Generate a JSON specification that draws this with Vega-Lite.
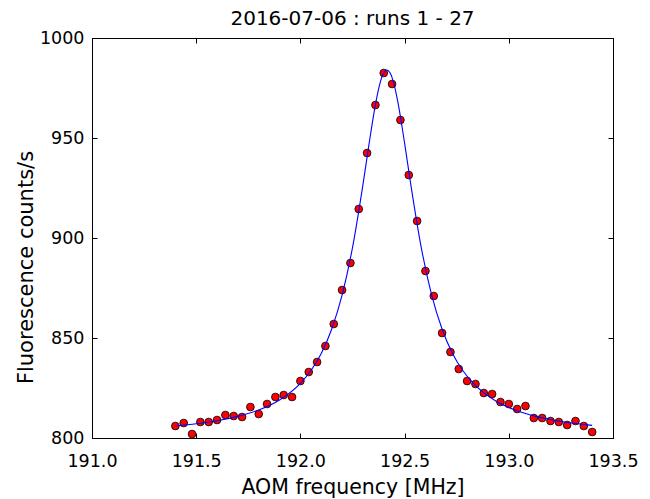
{
  "$schema": "https://vega.github.io/schema/vega-lite/v6.json",
  "autosize": "none",
  "width": 521,
  "height": 400,
  "padding": {"left": 92, "top": 38, "right": 37, "bottom": 61},
  "background": "white",
  "title": {"text": "2016-07-06 : runs 1 - 27", "font": "DejaVu Sans", "fontSize": 20, "fontWeight": "normal", "color": "black", "offset": 0},
  "config": {
    "view": {"stroke": "black", "strokeWidth": 1},
    "axis": {"grid": false, "domainColor": "black", "tickColor": "black", "labelFont": "DejaVu Sans", "titleFont": "DejaVu Sans", "labelColor": "black", "titleColor": "black", "titleFontWeight": "normal", "labelFontSize": 17.5, "tickSize": -5, "tickWidth": 1, "labelFlush": false, "labelOverlap": false}
  },
  "datasets": {
    "pts": [
      {"f": 191.40, "c": 806.0}, {"f": 191.44, "c": 807.5}, {"f": 191.48, "c": 802.0}, {"f": 191.52, "c": 808.0},
      {"f": 191.56, "c": 808.0}, {"f": 191.60, "c": 809.0}, {"f": 191.64, "c": 811.5}, {"f": 191.68, "c": 811.0},
      {"f": 191.72, "c": 810.5}, {"f": 191.76, "c": 815.5}, {"f": 191.80, "c": 812.0}, {"f": 191.84, "c": 817.0},
      {"f": 191.88, "c": 820.5}, {"f": 191.92, "c": 821.5}, {"f": 191.96, "c": 820.5}, {"f": 192.00, "c": 828.5},
      {"f": 192.04, "c": 833.0}, {"f": 192.08, "c": 838.0}, {"f": 192.12, "c": 846.0}, {"f": 192.16, "c": 857.0},
      {"f": 192.20, "c": 874.0}, {"f": 192.24, "c": 887.5}, {"f": 192.28, "c": 914.5}, {"f": 192.32, "c": 942.5},
      {"f": 192.36, "c": 966.5}, {"f": 192.40, "c": 982.5}, {"f": 192.44, "c": 977.0}, {"f": 192.48, "c": 959.0},
      {"f": 192.52, "c": 931.5}, {"f": 192.56, "c": 908.5}, {"f": 192.60, "c": 883.5}, {"f": 192.64, "c": 871.0},
      {"f": 192.68, "c": 852.5}, {"f": 192.72, "c": 843.0}, {"f": 192.76, "c": 834.5}, {"f": 192.80, "c": 828.5},
      {"f": 192.84, "c": 827.0}, {"f": 192.88, "c": 822.5}, {"f": 192.92, "c": 822.0}, {"f": 192.96, "c": 818.0},
      {"f": 193.00, "c": 817.0}, {"f": 193.04, "c": 814.5}, {"f": 193.08, "c": 816.0}, {"f": 193.12, "c": 810.0},
      {"f": 193.16, "c": 810.0}, {"f": 193.20, "c": 808.5}, {"f": 193.24, "c": 808.0}, {"f": 193.28, "c": 806.5},
      {"f": 193.32, "c": 808.5}, {"f": 193.36, "c": 806.0}, {"f": 193.40, "c": 803.0}
    ],
    "fit": [
      {"f": 191.40, "c": 806.0}, {"f": 191.50, "c": 807.1}, {"f": 191.60, "c": 808.6}, {"f": 191.70, "c": 810.8},
      {"f": 191.80, "c": 814.0}, {"f": 191.90, "c": 819.0}, {"f": 192.00, "c": 827.3}, {"f": 192.05, "c": 833.6},
      {"f": 192.10, "c": 842.3}, {"f": 192.15, "c": 854.4}, {"f": 192.20, "c": 871.4}, {"f": 192.25, "c": 895.2},
      {"f": 192.30, "c": 926.6}, {"f": 192.33, "c": 947.4}, {"f": 192.36, "c": 966.7}, {"f": 192.38, "c": 976.6},
      {"f": 192.40, "c": 982.6}, {"f": 192.415, "c": 984.0}, {"f": 192.43, "c": 982.6}, {"f": 192.45, "c": 976.6},
      {"f": 192.47, "c": 966.7}, {"f": 192.50, "c": 947.4}, {"f": 192.53, "c": 926.6}, {"f": 192.58, "c": 895.2},
      {"f": 192.63, "c": 871.4}, {"f": 192.68, "c": 854.4}, {"f": 192.73, "c": 842.3}, {"f": 192.78, "c": 833.6},
      {"f": 192.83, "c": 827.3}, {"f": 192.93, "c": 819.0}, {"f": 193.03, "c": 814.0}, {"f": 193.13, "c": 810.8},
      {"f": 193.23, "c": 808.6}, {"f": 193.33, "c": 807.1}, {"f": 193.40, "c": 806.3}
    ]
  },
  "layer": [
    {
      "data": {"name": "pts"},
      "mark": {"type": "point", "filled": true, "fill": "#ff0000", "stroke": "black", "strokeWidth": 0.8, "size": 60, "opacity": 1, "clip": true},
      "encoding": {
        "x": {"field": "f", "type": "quantitative", "scale": {"domain": [191.0, 193.5], "nice": false, "zero": false},
              "axis": {"orient": "bottom", "values": [191.0, 191.5, 192.0, 192.5, 193.0, 193.5], "format": ".1f", "title": "AOM frequency [MHz]", "titleFontSize": 20.5, "labelPadding": 19, "titlePadding": 8}},
        "y": {"field": "c", "type": "quantitative", "scale": {"domain": [800, 1000], "nice": false, "zero": false},
              "axis": {"orient": "left", "values": [800, 850, 900, 950, 1000], "format": "d", "title": "Fluorescence counts/s", "titleFontSize": 21, "labelPadding": 13, "titlePadding": 3, "titleY": 229}}
      }
    },
    {
      "data": {"name": "fit"},
      "mark": {"type": "line", "color": "#0000ff", "strokeWidth": 1.1, "interpolate": "monotone"},
      "encoding": {
        "x": {"field": "f", "type": "quantitative", "scale": {"domain": [191.0, 193.5], "nice": false, "zero": false},
              "axis": {"orient": "top", "values": [191.0, 191.5, 192.0, 192.5, 193.0, 193.5], "labels": false, "title": null}},
        "y": {"field": "c", "type": "quantitative", "scale": {"domain": [800, 1000], "nice": false, "zero": false},
              "axis": {"orient": "right", "values": [800, 850, 900, 950, 1000], "labels": false, "title": null}}
      }
    }
  ],
  "resolve": {"axis": {"x": "independent", "y": "independent"}}
}
